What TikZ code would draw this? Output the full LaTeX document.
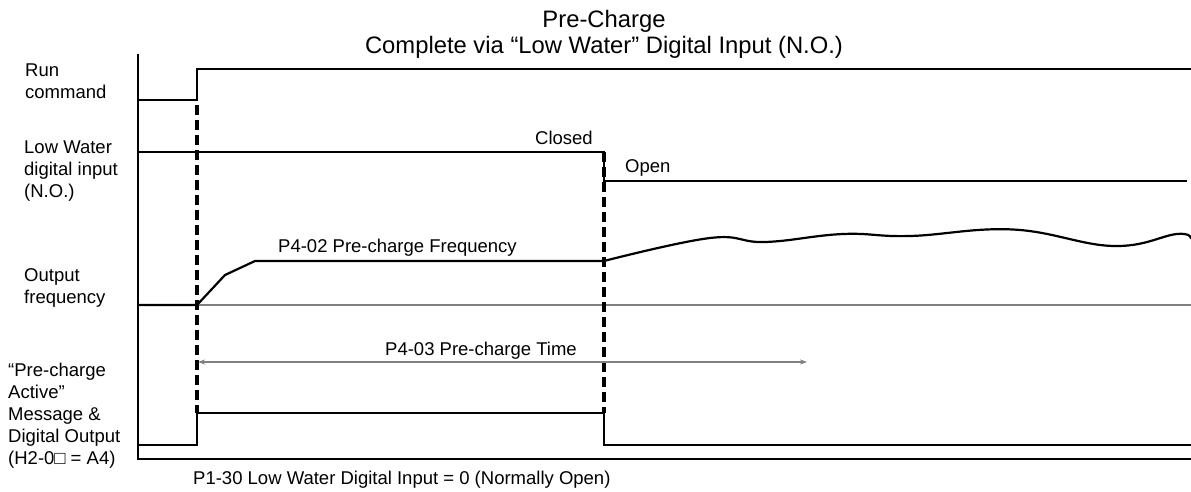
\documentclass[tikz,border=0pt]{standalone}
\usepackage{fontspec}
\setmainfont{Liberation Sans}
\usetikzlibrary{arrows.meta}
\begin{document}
\begin{tikzpicture}[x=1pt,y=-1pt,
  sig/.style={line width=2.2pt, line join=miter},
  guide/.style={line width=3.5pt, dash pattern=on 10pt off 5pt},
  greyline/.style={draw=black!50, line width=1.3pt},
  lbl/.style={inner sep=0pt, anchor=base west, align=left, font=\fontsize{18.5}{22}\selectfont},
  ttl/.style={inner sep=0pt, anchor=base, align=center, font=\fontsize{23.8}{26}\selectfont},
  >={Stealth[length=7pt,width=5pt]}
]
\useasboundingbox (0,0) rectangle (1191,491);

% coordinates
\coordinate (axtop) at (138,54);
\coordinate (axcorner) at (138,459);
\coordinate (axend) at (1191,459);

% title (anchor = baseline of last line)
\node[ttl] (title) at (604,53) {Pre-Charge\\Complete via “Low Water” Digital Input (N.O.)};

% left labels (anchor = baseline of last line)
\node[lbl] (lrun) at (25,98) {Run\\command};
\node[lbl] (llw) at (24,197) {Low Water\\digital input\\(N.O.)};
\node[lbl] (lof) at (24,303) {Output\\frequency};
\node[lbl] (lpa) at (8,464) {“Pre-charge\\Active”\\Message \&\\Digital Output\\(H2-0□ = A4)};

% other labels
\node[lbl] (closed) at (535,144) {Closed};
\node[lbl] (open) at (625,172) {Open};
\node[lbl] (p402) at (278,252) {P4-02 Pre-charge Frequency};
\node[lbl] (p403) at (385,355) {P4-03 Pre-charge Time};
\node[lbl] (p130) at (193,484) {P1-30 Low Water Digital Input = 0 (Normally Open)};

% axes
\draw[sig] (axtop) -- (axcorner) -- (axend);

% frequency zero line
\draw[greyline] (197,305) -- (1191,305);

% run command
\draw[sig] (138,100) -- (197,100) -- (197,69) -- (1191,69);

% low water input
\draw[sig] (138,152) -- (604,152) -- (604,181) -- (1187,181);

% output frequency
\draw[sig] (138,305) -- (197,305) -- (225,275) -- (255,261) -- (604,261);
\draw[sig] plot[smooth, tension=0.7] coordinates {(604,261) (710,238) (765,242) (843,234) (910,236) (1013,229.5) (1113,246) (1177,234) (1191,239)};

% digital output
\draw[sig] (138,445) -- (197,445) -- (197,413) -- (604,413) -- (604,445) -- (1191,445);

% guides
\draw[guide] (197,105) -- (197,413);
\draw[guide] (604,152) -- (604,413);

% pre-charge time arrow
\coordinate (tstart) at (198,362);
\coordinate (tend) at (807,362);
\draw[greyline, <->] (tstart) -- (tend);
\end{tikzpicture}
\end{document}
